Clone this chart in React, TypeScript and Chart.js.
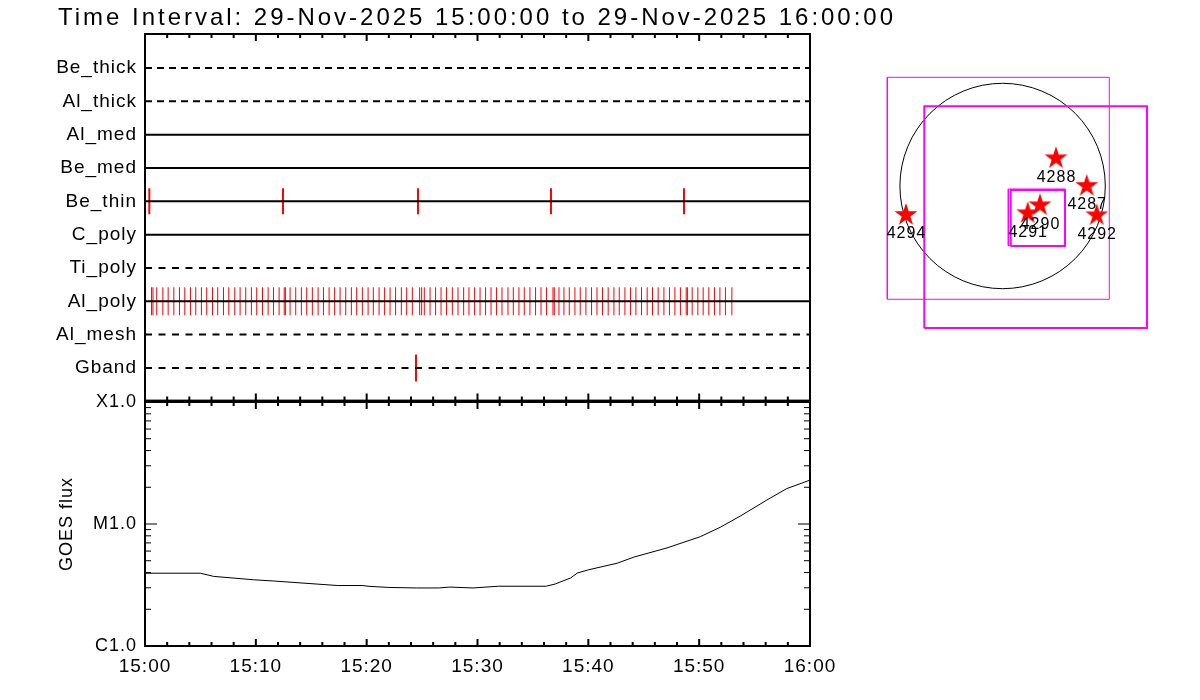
import React, { useEffect, useRef } from 'react';
import { Chart, registerables } from 'chart.js';

Chart.register(...registerables);

// ---------------- data ----------------
const titleText = 'Time Interval: 29-Nov-2025 15:00:00 to 29-Nov-2025 16:00:00';

const rowNames = ['Be_thick', 'Al_thick', 'Al_med', 'Be_med', 'Be_thin', 'C_poly', 'Ti_poly', 'Al_poly', 'Al_mesh', 'Gband'];
const rowDashed = [true, true, false, false, false, false, true, false, true, true];

// exposure marks, minutes after 15:00
const beThinMarks = [0.39, 12.45, 24.63, 36.63, 48.63];
const gbandMarks = [24.45];
const alPolyMarks = [
  0.05, 0.59, 0.72, 1.06, 1.61, 2.09, 2.6, 3.11, 3.59, 4.1, 4.58, 5.09, 5.57, 6.09, 6.56, 7.08, 7.56, 8.1, 8.58,
  9.09, 9.6, 10.08, 10.6, 11.11, 11.59, 12.1, 12.56, 12.67, 13.09, 13.6, 14.11, 14.59, 15.1, 15.62, 16.1, 16.61,
  17.11, 17.6, 18.11, 18.62, 19.1, 19.61, 20.13, 20.6, 21.12, 21.62, 22.11, 22.61, 23.13, 23.61, 24.12, 24.78,
  24.96, 25.2, 25.72, 26.22, 26.71, 27.21, 27.73, 28.24, 28.75, 29.23, 29.74, 30.23, 30.73, 31.22, 31.72, 32.21,
  32.75, 33.23, 33.74, 34.22, 34.73, 35.24, 35.73, 36.23, 36.81, 36.93, 37.35, 37.8, 38.28, 38.79, 39.27, 39.78,
  40.29, 40.78, 41.28, 41.79, 42.31, 42.79, 43.3, 43.81, 44.29, 44.8, 45.31, 45.79, 46.3, 46.82, 47.32, 47.81,
  48.31, 48.83, 48.94, 49.37, 49.88, 50.36, 50.87, 51.38, 51.87, 52.37, 52.95,
];

// GOES flux (W/m^2) vs minutes after 15:00
const goesMinutes = [0, 5.0, 6.2, 9.8, 11.6, 17.4, 19.6, 20.3, 22.0, 24.5, 26.5, 27.5, 29.6, 31.9, 36.2, 37.0, 38.4, 39.0, 40.0, 42.6, 44.1, 47.1, 50.1, 51.9, 53.7, 56.1, 57.9, 60.0];
const goesFlux = [3.95e-6, 3.95e-6, 3.72e-6, 3.49e-6, 3.41e-6, 3.13e-6, 3.13e-6, 3.08e-6, 3.02e-6, 2.99e-6, 2.99e-6, 3.04e-6, 2.99e-6, 3.09e-6, 3.09e-6, 3.22e-6, 3.61e-6, 3.96e-6, 4.21e-6, 4.77e-6, 5.35e-6, 6.37e-6, 7.87e-6, 9.4e-6, 1.16e-5, 1.57e-5, 1.95e-5, 2.29e-5];

const timeTickMinutes = [0, 10, 20, 30, 40, 50, 60];
const timeMinorMinutes = [0, 2, 4, 6, 8, 10, 12, 14, 16, 18, 20, 22, 24, 26, 28, 30, 32, 34, 36, 38, 40, 42, 44, 46, 48, 50, 52, 54, 56, 58, 60];
const goesTickValues = [1e-6, 1e-5, 1e-4];
const goesTickLabels = ['C1.0', 'M1.0', 'X1.0'];
const goesMinorValues = [2e-6, 3e-6, 4e-6, 5e-6, 6e-6, 7e-6, 8e-6, 9e-6, 2e-5, 3e-5, 4e-5, 5e-5, 6e-5, 7e-5, 8e-5, 9e-5];

// solar map (arcsec)
const diskRadius = 973;
const regionNames = ['4288', '4287', '4292', '4294', '4290', '4291'];
const regionX = [505.9, 796.8, 891.5, -915.2, 354.3, 237.8];
const regionY = [271.9, 9.5, -268.1, -265.3, -173.4, -249.2];
const boxX0 = [-1092.4, -741.8, 54, 76.7];
const boxX1 = [1010.9, 1368, 591, 591];
const boxY0 = [-1073.4, -1345.3, -565.6, -568.4];
const boxY1 = [1029.8, 755, -28.4, -37.9];
const boxWidths = [1, 2, 1, 2];

// ---------------- helpers ----------------
const FONT = '"Liberation Sans", Arial, sans-serif';

function fmtTime(v: number) {
  const h = 15 + Math.floor(v / 60);
  const m = Math.round(v % 60);
  return `${h}:${m < 10 ? '0' : ''}${m}`;
}

function makeStar(): HTMLCanvasElement {
  const c = document.createElement('canvas');
  c.width = 26;
  c.height = 26;
  const g = c.getContext('2d')!;
  const R = 12;
  const r = R * 0.382;
  const cx = 13;
  const cy = 14;
  g.beginPath();
  for (let i = 0; i < 10; i++) {
    const ang = -Math.PI / 2 + (i * Math.PI) / 5;
    const rr = i % 2 === 0 ? R : r;
    const px = cx + rr * Math.cos(ang);
    const py = cy + rr * Math.sin(ang);
    if (i === 0) g.moveTo(px, py);
    else g.lineTo(px, py);
  }
  g.closePath();
  g.fillStyle = '#ff0000';
  g.fill();
  return c;
}

function framePlugin(withLog: boolean, withTitle: boolean) {
  return {
    id: 'frameTicks',
    beforeDraw(chart: any) {
      chart.ctx.letterSpacing = '1px';
    },
    afterDatasetsDraw(chart: any) {
      const { ctx, chartArea: a, scales } = chart;
      const xs = scales.x;
      const ys = scales.y;
      ctx.save();
      ctx.strokeStyle = '#000';
      ctx.lineCap = 'butt';
      ctx.lineWidth = 2;
      ctx.beginPath();
      for (const m of timeMinorMinutes) {
        const px = xs.getPixelForValue(m);
        const len = timeTickMinutes.includes(m) ? 7 : 4;
        ctx.moveTo(px, a.top);
        ctx.lineTo(px, a.top + len);
        ctx.moveTo(px, a.bottom);
        ctx.lineTo(px, a.bottom - len);
      }
      ctx.stroke();
      if (withLog) {
        ctx.lineWidth = 1;
        ctx.beginPath();
        const all = [...goesMinorValues.map((v) => [v, 6]), ...goesTickValues.map((v) => [v, 12])];
        for (const [v, len] of all) {
          const py = ys.getPixelForValue(v);
          ctx.moveTo(a.left, py);
          ctx.lineTo(a.left + len, py);
          ctx.moveTo(a.right, py);
          ctx.lineTo(a.right - len, py);
        }
        ctx.stroke();
      }
      ctx.lineWidth = 2;
      ctx.strokeRect(a.left, a.top, a.right - a.left, a.bottom - a.top);
      ctx.restore();
    },
    afterDraw(chart: any) {
      if (!withTitle) return;
      const ctx = chart.ctx;
      ctx.save();
      ctx.font = `24px ${FONT}`;
      ctx.letterSpacing = '0px';
      const w = ctx.measureText(titleText).width;
      const ls = (835 - w) / (titleText.length - 1);
      ctx.letterSpacing = `${ls}px`;
      ctx.fillStyle = '#000';
      ctx.textAlign = 'left';
      ctx.textBaseline = 'alphabetic';
      ctx.fillText(titleText, 58, 25);
      ctx.restore();
    },
  };
}

const mapPlugin = {
  id: 'sunMap',
  beforeDatasetsDraw(chart: any) {
    const { ctx, scales } = chart;
    const cx = scales.x.getPixelForValue(0);
    const cy = scales.y.getPixelForValue(0);
    const r = scales.x.getPixelForValue(diskRadius) - cx;
    ctx.save();
    ctx.strokeStyle = '#000';
    ctx.lineWidth = 1;
    ctx.beginPath();
    ctx.arc(cx, cy, r, 0, Math.PI * 2);
    ctx.stroke();
    ctx.restore();
  },
  afterDatasetsDraw(chart: any) {
    const { ctx, scales } = chart;
    ctx.save();
    ctx.font = `16px ${FONT}`;
    ctx.letterSpacing = '1px';
    ctx.fillStyle = '#000';
    ctx.textAlign = 'center';
    ctx.textBaseline = 'middle';
    regionNames.forEach((name, i) => {
      const px = scales.x.getPixelForValue(regionX[i]);
      const py = scales.y.getPixelForValue(regionY[i]);
      ctx.fillText(name, px + 0.5, py + 20);
    });
    ctx.restore();
  },
};

export default function App() {
  const topRef = useRef<HTMLCanvasElement>(null);
  const botRef = useRef<HTMLCanvasElement>(null);
  const mapRef = useRef<HTMLCanvasElement>(null);

  useEffect(() => {
    Chart.defaults.font.family = FONT;
    Chart.defaults.color = '#000';

    const rowDatasets = rowNames.map((name, i) => ({
      label: name,
      data: [
        { x: 0, y: i + 1 },
        { x: 60, y: i + 1 },
      ],
      showLine: true,
      borderColor: '#000',
      borderWidth: 2,
      borderDash: rowDashed[i] ? (i < 2 ? [7, 5] : [7, 6.5]) : [],
      pointRadius: 0,
    }));
    const markSet = (label: string, marks: number[], row: number, radius: number, width: number) => ({
      label,
      data: marks.map((m) => ({ x: m, y: row })),
      showLine: false,
      pointStyle: 'line',
      rotation: 90,
      pointRadius: radius,
      borderColor: '#ff0000',
      borderWidth: width,
      pointBorderWidth: width,
      pointBorderColor: '#ff0000',
    });

    const top = new Chart(topRef.current!, {
      type: 'scatter',
      data: {
        datasets: [
          ...rowDatasets,
          markSet('Be_thin marks', beThinMarks, rowNames.indexOf('Be_thin') + 1, 13, 2),
          markSet('Al_poly marks', alPolyMarks, rowNames.indexOf('Al_poly') + 1, 14, 1),
          markSet('Gband marks', gbandMarks, rowNames.indexOf('Gband') + 1, 13.5, 2),
        ] as any,
      },
      options: {
        animation: false,
        responsive: false,
        devicePixelRatio: 1,
        layout: { autoPadding: false, padding: { left: 0, right: 90, top: 34, bottom: 18 } },
        plugins: { legend: { display: false }, tooltip: { enabled: false } },
        scales: {
          x: { type: 'linear', min: 0, max: 60, display: false },
          y: {
            type: 'linear',
            min: -0.02,
            max: 10.98,
            reverse: true,
            afterBuildTicks: (a: any) => {
              a.ticks = rowNames.map((_, i) => ({ value: i + 1 }));
            },
            afterFit: (a: any) => {
              a.width = 145;
            },
            grid: { display: false, drawTicks: false },
            border: { display: false },
            ticks: {
              autoSkip: false,
              callback: (_v: any, i: number) => rowNames[i],
              font: { size: 19 },
              padding: 8,
              color: '#000',
            },
          },
        },
      } as any,
      plugins: [framePlugin(false, true)],
    });

    const bottom = new Chart(botRef.current!, {
      type: 'scatter',
      data: {
        datasets: [
          {
            label: 'GOES flux',
            data: goesMinutes.map((m, i) => ({ x: m, y: goesFlux[i] })),
            showLine: true,
            borderColor: '#000',
            borderWidth: 1,
            pointRadius: 0,
            tension: 0,
          },
        ],
      },
      options: {
        animation: false,
        responsive: false,
        devicePixelRatio: 1,
        layout: { autoPadding: false, padding: { left: 0, right: 90, top: 22, bottom: 0 } },
        plugins: { legend: { display: false }, tooltip: { enabled: false } },
        scales: {
          x: {
            type: 'linear',
            min: 0,
            max: 60,
            afterBuildTicks: (a: any) => {
              a.ticks = timeTickMinutes.map((v) => ({ value: v }));
            },
            afterFit: (a: any) => {
              a.height = 54;
            },
            grid: { display: false, drawTicks: false },
            border: { display: false },
            ticks: {
              autoSkip: false,
              maxRotation: 0,
              callback: (v: any) => fmtTime(Number(v)),
              font: { size: 19 },
              padding: 9,
              color: '#000',
            },
          },
          y: {
            type: 'logarithmic',
            min: 1e-6,
            max: 1e-4,
            afterBuildTicks: (a: any) => {
              a.ticks = goesTickValues.map((v) => ({ value: v }));
            },
            afterFit: (a: any) => {
              a.width = 145;
            },
            grid: { display: false, drawTicks: false },
            border: { display: false },
            title: {
              display: true,
              text: 'GOES flux',
              font: { size: 18 },
              color: '#000',
              padding: { top: 56, bottom: 0 },
            },
            ticks: {
              autoSkip: false,
              callback: (_v: any, i: number) => goesTickLabels[i],
              font: { size: 18 },
              padding: 8,
              color: '#000',
            },
          },
        },
      } as any,
      plugins: [framePlugin(true, false)],
    });

    const star = makeStar();
    const boxDatasets = boxX0.map((x0, i) => ({
      label: `box${i}`,
      data: [
        { x: x0, y: boxY0[i] },
        { x: boxX1[i], y: boxY0[i] },
        { x: boxX1[i], y: boxY1[i] },
        { x: x0, y: boxY1[i] },
        { x: x0, y: boxY0[i] },
      ],
      showLine: true,
      borderColor: '#ff00ff',
      borderWidth: boxWidths[i],
      pointRadius: 0,
    }));
    const map = new Chart(mapRef.current!, {
      type: 'scatter',
      data: {
        datasets: [
          ...boxDatasets,
          {
            label: 'regions',
            data: regionX.map((x, i) => ({ x, y: regionY[i] })),
            pointStyle: star,
            pointRadius: 12,
            showLine: false,
          },
        ] as any,
      },
      options: {
        animation: false,
        responsive: false,
        devicePixelRatio: 1,
        layout: { autoPadding: false, padding: 0 },
        plugins: { legend: { display: false }, tooltip: { enabled: false } },
        scales: {
          x: { type: 'linear', min: -1256.3, max: 1586, display: false },
          y: { type: 'linear', min: -1553.8, max: 1193.7, display: false },
        },
      } as any,
      plugins: [mapPlugin],
    });

    return () => {
      top.destroy();
      bottom.destroy();
      map.destroy();
    };
  }, []);

  return (
    <div style={{ position: 'fixed', left: 0, top: 0, width: 1200, height: 700, background: '#fff', overflow: 'hidden' }}>
      <canvas ref={topRef} width={900} height={420} style={{ position: 'absolute', left: 0, top: 0, width: 900, height: 420 }} />
      <canvas ref={botRef} width={900} height={320} style={{ position: 'absolute', left: 0, top: 380, width: 900, height: 320 }} />
      <canvas ref={mapRef} width={300} height={290} style={{ position: 'absolute', left: 870, top: 60, width: 300, height: 290 }} />
    </div>
  );
}
